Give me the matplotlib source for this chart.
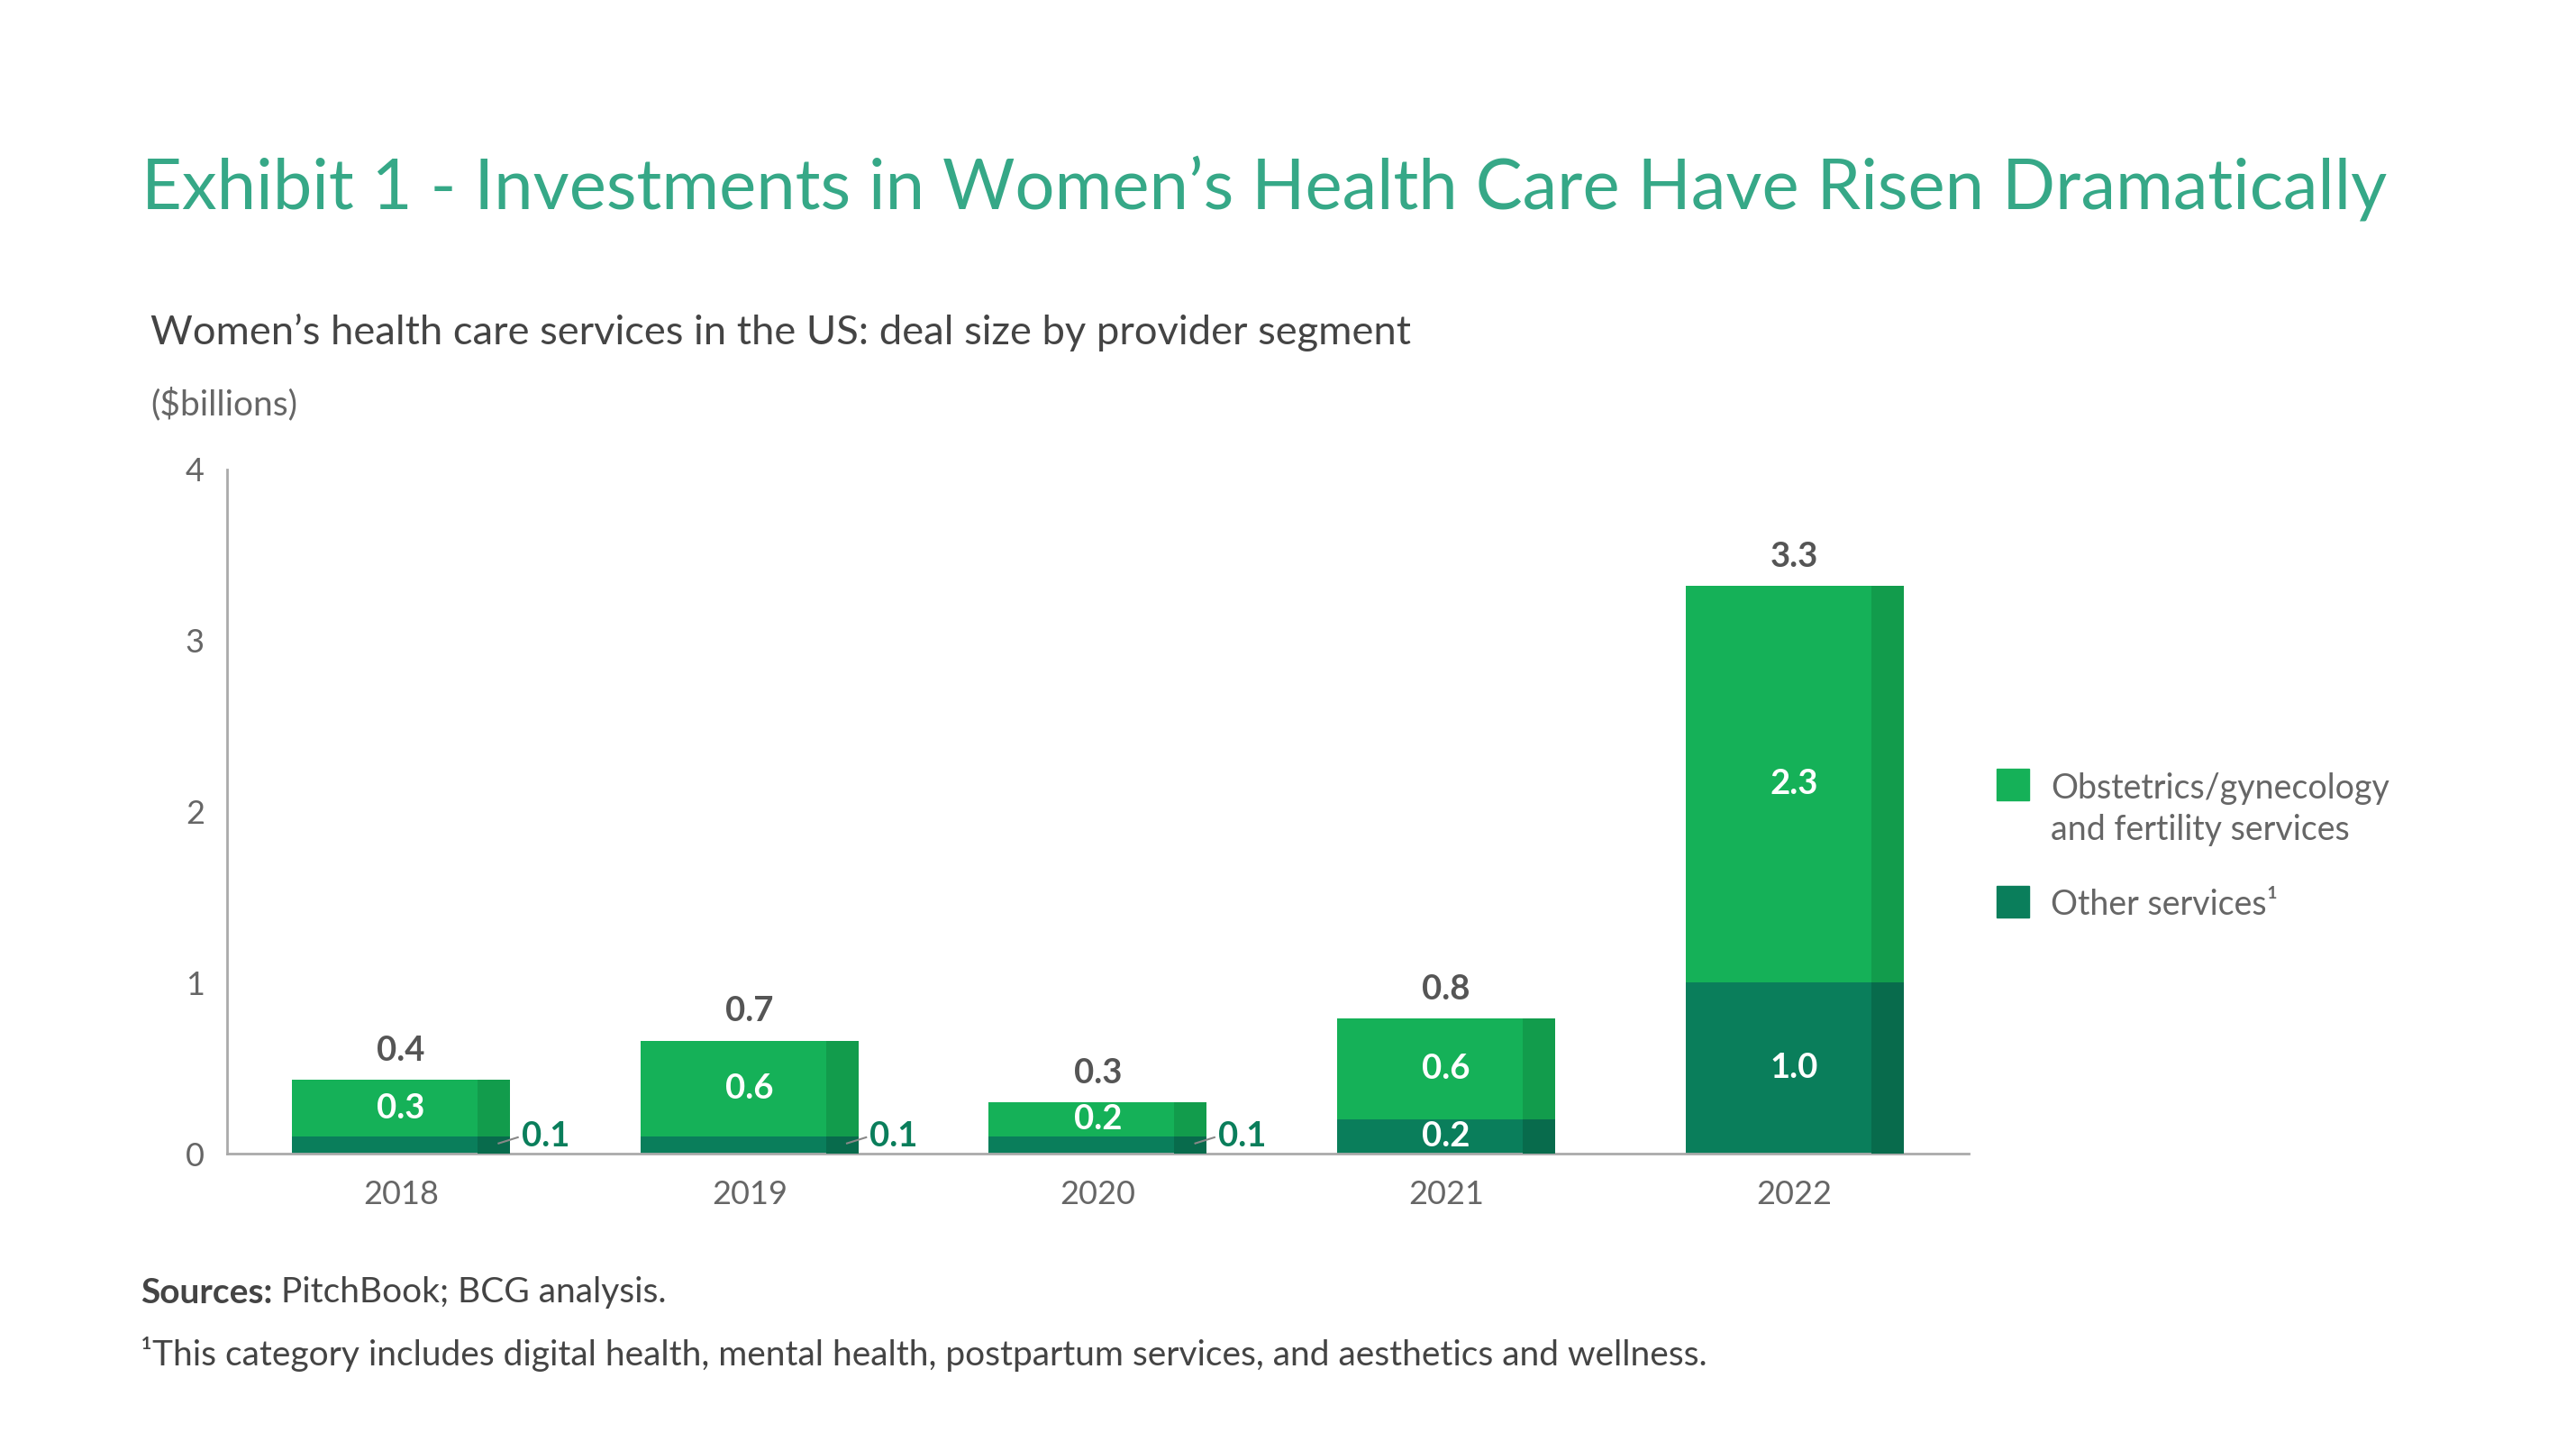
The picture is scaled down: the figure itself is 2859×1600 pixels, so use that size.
import matplotlib
matplotlib.use("Agg")
import matplotlib.pyplot as plt
from matplotlib.patches import Rectangle

plt.rcParams['font.family'] = ['Lato', 'DejaVu Sans']

# data
years = ["2018", "2019", "2020", "2021", "2022"]
other = [0.1, 0.1, 0.1, 0.2, 1.0]
obgyn = [0.33, 0.56, 0.2, 0.59, 2.32]
obgyn_labels = ["0.3", "0.6", "0.2", "0.6", "2.3"]
other_labels = ["0.1", "0.1", "0.1", "0.2", "1.0"]
total_labels = ["0.4", "0.7", "0.3", "0.8", "3.3"]
series_names = ["Obstetrics/gynecology\nand fertility services", "Other services\u00b9"]
yticks = [0, 1, 2, 3, 4]

# colours
c_obgyn = "#15b158"
c_obgyn_dark = "#129c4c"
c_other = "#0a7e5b"
c_other_dark = "#086b4c"
c_title = "#36a887"
c_text = "#555555"
c_tick = "#666666"

fig = plt.figure(figsize=(28.59, 16), dpi=100)
ax = fig.add_axes([0.0881, 0.2, 0.6761, 0.4744])

x = list(range(len(years)))
w = 0.626
strip = 0.093

ax.bar(x, other, width=w, color=c_other, zorder=2)
ax.bar(x, obgyn, width=w, bottom=other, color=c_obgyn, zorder=2)
# darker strip on the right side of each bar
xs = [i + w / 2 - strip for i in x]
ax.bar(xs, other, width=strip, align="edge", color=c_other_dark, zorder=3)
ax.bar(xs, obgyn, width=strip, align="edge", bottom=other, color=c_obgyn_dark, zorder=3)

for i in x:
    top = other[i] + obgyn[i]
    ax.annotate(total_labels[i], (i, top), xytext=(0, 11), textcoords="offset points",
                ha="center", va="bottom", fontsize=27.5, fontweight="bold", color=c_text)
    ax.text(i, other[i] + obgyn[i] / 2, obgyn_labels[i], ha="center", va="center",
            fontsize=27.5, fontweight="bold", color="white", zorder=4)
    if other[i] >= 0.15:
        ax.text(i, other[i] / 2, other_labels[i], ha="center", va="center",
                fontsize=27.5, fontweight="bold", color="white", zorder=4)
    else:
        ax.plot([i + 0.28, i + 0.335], [other[i] * 0.6, other[i] * 0.95],
                color="#888888", lw=1.5, zorder=4, clip_on=False)
        ax.text(i + 0.345, other[i], other_labels[i], ha="left", va="center",
                fontsize=27.5, fontweight="bold", color=c_other, zorder=4)

ax.set_xlim(-0.5, 4.5)
ax.set_ylim(0, 4)
ax.set_xticks(x)
ax.set_xticklabels(years)
ax.set_yticks(yticks)
ax.tick_params(length=0, labelsize=26, colors=c_tick)
ax.tick_params(axis="x", pad=21)
ax.tick_params(axis="y", pad=18)
for s in ["top", "right"]:
    ax.spines[s].set_visible(False)
for s in ["left", "bottom"]:
    ax.spines[s].set_color("#aaaaaa")
    ax.spines[s].set_linewidth(2)

# titles
fig.text(0.0549, 0.8555, "Exhibit 1 - Investments in Women\u2019s Health Care Have Risen Dramatically",
         fontsize=56, color=c_title, va="baseline", ha="left")
fig.text(0.0585, 0.7611, "Women\u2019s health care services in the US: deal size by provider segment",
         fontsize=32.6, color="#444444", va="baseline", ha="left")
fig.text(0.0585, 0.7123, "($billions)", fontsize=28, color=c_tick, va="baseline", ha="left")

# legend (baseline of the last line of each entry)
legend_colors = [c_obgyn, c_other]
square_bottom = [0.445, 0.3638]
text_baseline = [0.4177, 0.3659]
for name, col, sb, tb in zip(series_names, legend_colors, square_bottom, text_baseline):
    fig.patches.append(Rectangle((0.7751, sb), 0.0126, 0.0219, transform=fig.transFigure,
                                 color=col, figure=fig))
    fig.text(0.7961, tb, name, fontsize=27, color=c_tick, va="baseline", ha="left",
             linespacing=1.35)

# footer
t1 = fig.text(0.0546, 0.0964, "Sources:", fontsize=28, fontweight="bold", color="#444444",
              va="baseline", ha="left")
ax.annotate(" PitchBook; BCG analysis.", xy=(1, 0), xycoords=t1, fontsize=28,
            color="#444444", va="bottom", ha="left")
fig.text(0.0546, 0.0529, "\u00b9This category includes digital health, mental health, postpartum services, and aesthetics and wellness.",
         fontsize=28, color="#444444", va="baseline", ha="left")

fig.savefig("out.png", dpi=100)
